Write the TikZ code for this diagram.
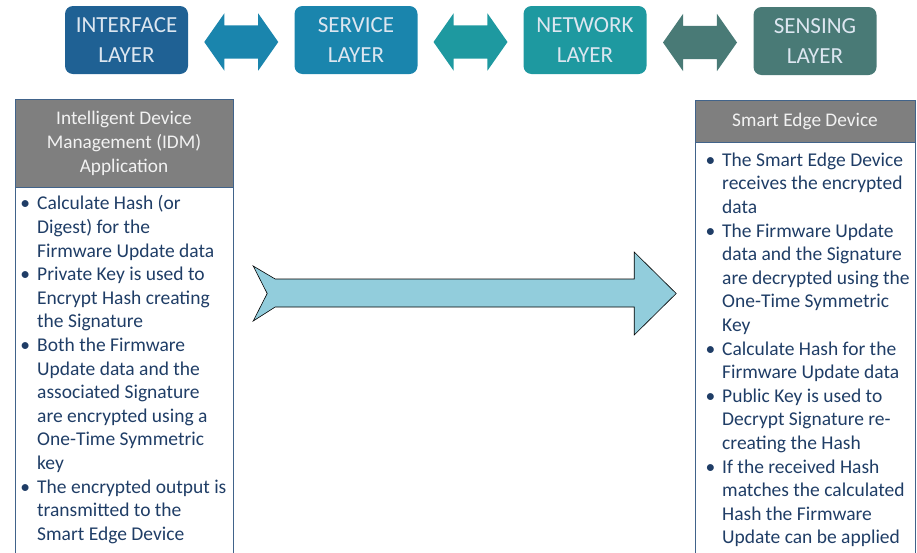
\documentclass[tikz,border=0pt]{standalone}
\usepackage{fontspec}
\setmainfont{Carlito}
\usetikzlibrary{positioning,shapes.arrows,calc}
\definecolor{ifaceblue}{HTML}{1F6194}
\definecolor{servblue}{HTML}{1A85AD}
\definecolor{netteal}{HTML}{1E99A0}
\definecolor{sensgreen}{HTML}{497A76}
\definecolor{layertext}{HTML}{DCE6F0}
\definecolor{panelline}{HTML}{41638A}
\definecolor{paneltext}{HTML}{1F3D66}
\definecolor{hdrgray}{HTML}{7F7F7F}
\definecolor{flowfill}{HTML}{92CDDC}
\tikzset{
  layer/.style={rounded corners=8pt, minimum width=123pt, minimum height=68pt,
    inner sep=0pt, align=center, text=layertext, font=\fontsize{23}{29.5}\selectfont},
  link/.style={double arrow, double arrow head extend=12pt, double arrow tip angle=110,
    text height=16.5pt, text depth=16.5pt, minimum height=74pt, inner sep=0pt},
  hdr/.style={draw=panelline, fill=hdrgray, text=white!95!black, minimum width=218pt,
    align=center, inner sep=0pt, font=\fontsize{19.3}{24}\selectfont},
  bullets/.style={align=left, inner sep=0pt, text=paneltext,
    font=\fontsize{19.5}{23.6}\selectfont},
  flowarrow/.style={draw=black, fill=flowfill, line width=0.6pt, line join=miter}
}
\newcommand{\itm}{\llap{\textbullet\hspace{7pt}}}
\begin{document}
\begin{tikzpicture}[x=1pt,y=-1pt]
\useasboundingbox (0,0) rectangle (917,552);
% layers
\node[layer, fill=ifaceblue] (iface) at (126.5,40) {INTERFACE\\LAYER};
\node[layer, fill=servblue] (serv) at (356,40) {SERVICE\\LAYER};
\node[layer, fill=netteal] (net) at (585,40) {NETWORK\\LAYER};
\node[layer, fill=sensgreen] (sens) at (815,41) {SENSING\\LAYER};
\node[link, fill=servblue] (l1) at ($(iface.east)!.5!(serv.west)+(0,2)$) {};
\node[link, fill=netteal] (l2) at ($(serv.east)!.5!(net.west)+(0,2)$) {};
\node[link, fill=sensgreen] (l3) at ($(net.east)!.5!(sens.west)+(0,2)$) {};
% left panel
\node[hdr, minimum height=88pt] (idm) at (124,143) {Intelligent Device\\Management (IDM)\\Application};
\draw[panelline] (idm.south west) -- ++(0,380);
\draw[panelline] (idm.south east) -- ++(0,380);
\node[bullets, anchor=north west] (idmlist) at (37,195.5) {%
\itm Calculate Hash (or\\ Digest) for the\\ Firmware Update data\\
\itm Private Key is used to\\ Encrypt Hash creating\\ the Signature\\
\itm Both the Firmware\\ Update data and the\\ associated Signature\\ are encrypted using a\\ One-Time Symmetric\\ key\\
\itm The encrypted output is\\ transmitted to the\\ Smart Edge Device};
% right panel
\node[hdr, minimum width=220pt, minimum height=42pt] (sed) at (805,121) {\raisebox{-1.5pt}{Smart Edge Device}};
\draw[panelline] (sed.south west) -- ++(0,430);
\draw[panelline] (sed.south east) -- ++(0,430);
\node[bullets, anchor=north west] (sedlist) at (722,152.5) {%
\itm The Smart Edge Device\\ receives the encrypted\\ data\\
\itm The Firmware Update\\ data and the Signature\\ are decrypted using the\\ One-Time Symmetric\\ Key\\
\itm Calculate Hash for the\\ Firmware Update data\\
\itm Public Key is used to\\ Decrypt Signature re-\\ creating the Hash\\
\itm If the received Hash\\ matches the calculated\\ Hash the Firmware\\ Update can be applied};
% transfer arrow
\coordinate (lft) at ($(idm.east |- 0,293.5)+(20,0)$);
\draw[flowarrow] (lft) ++(0,-27.5) -- ++(22,13) -- ++(359,0) -- ++(0,-27) -- ++(42,41.5)
  -- ++(-42,41.5) -- ++(0,-28) -- ++(-359,0) -- ++(-22,14) -- ++(14,-27.5) -- cycle;
\end{tikzpicture}
\end{document}
